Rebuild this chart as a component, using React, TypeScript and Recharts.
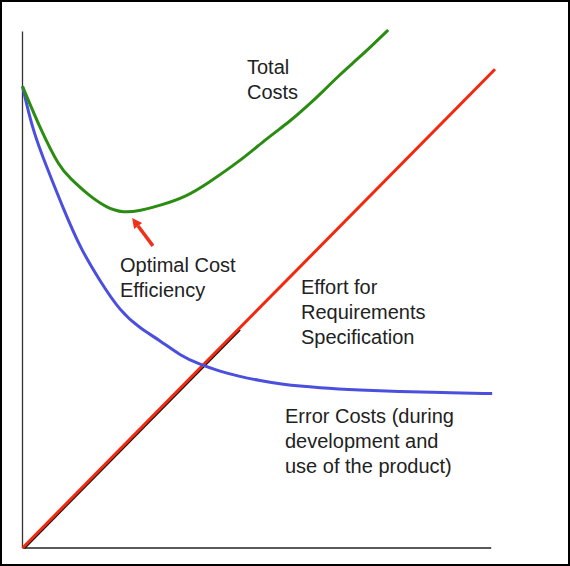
import React from 'react';
import { LineChart, Line, XAxis, YAxis, ReferenceLine } from 'recharts';

// effort axis (x) and cost axis (y), both 0..100
const blueX = [0, 2.2, 5.2, 8.6, 12.2, 16.4, 20.6, 24.9, 29.1, 33.3, 37.6, 41.8, 46.0, 50.3, 54.5, 63.0, 71.4, 79.9, 88.4, 99.4];
const errorCosts = [89.4, 80.7, 73.6, 65.8, 58.1, 51.7, 45.9, 42.5, 40.2, 37.3, 35.5, 34.2, 33.2, 32.4, 31.7, 31.0, 30.6, 30.3, 30.1, 29.9];

const greenX = [0, 3.7, 7.9, 10.1, 13.7, 17.9, 21.3, 24.9, 29.1, 34.8, 39.0, 46.0, 51.7, 56.6, 60.2, 63.6, 67.2, 70.8, 74.2, 77.4];
const totalCosts = [89.4, 81.3, 73.6, 71.6, 68.5, 65.8, 64.9, 65.3, 66.3, 68.1, 70.5, 74.9, 79.3, 82.6, 85.5, 88.4, 91.7, 94.6, 97.5, 100.3];

const effortX = [0, 100];
const effortSpec = [0, 92.7];

// dark shadow under the lower part of the red line
const shadowX = [0.35, 46];
const shadowY = [0, 42.3];

const errorData = blueX.map((x, i) => ({ x, y: errorCosts[i] }));
const totalData = greenX.map((x, i) => ({ x, y: totalCosts[i] }));
const effortData = effortX.map((x, i) => ({ x, y: effortSpec[i] }));
const shadowData = shadowX.map((x, i) => ({ x, y: shadowY[i] }));

const textStyle: React.CSSProperties = {
  position: 'absolute',
  fontFamily: '"Liberation Sans", Arial, sans-serif',
  fontSize: 20,
  lineHeight: '25px',
  color: '#222',
  whiteSpace: 'nowrap',
};

const Arrow = (props: any) => {
  const { x1, y1, x2, y2 } = props;
  const dx = x2 - x1;
  const dy = y2 - y1;
  const len = Math.sqrt(dx * dx + dy * dy);
  const ux = dx / len;
  const uy = dy / len;
  const head = 10;
  const half = 5;
  const bx = x2 - ux * head;
  const by = y2 - uy * head;
  return (
    <g>
      <line x1={x1} y1={y1} x2={bx} y2={by} stroke="#f0301a" strokeWidth={3.5} />
      <polygon
        points={`${x2},${y2} ${bx - uy * half},${by + ux * half} ${bx + uy * half},${by - ux * half}`}
        fill="#f0301a"
      />
    </g>
  );
};

export default function App() {
  return (
    <div style={{ position: 'absolute', left: 0, top: 0, width: 570, height: 566, background: '#fff' }}>
      <LineChart width={570} height={566} margin={{ top: 30, right: 75, bottom: 18, left: 22.5 }}>
        <XAxis type="number" dataKey="x" domain={[0, 100]} hide />
        <YAxis type="number" dataKey="y" domain={[0, 100]} hide />
        <ReferenceLine segment={[{ x: 0, y: 0 }, { x: 0, y: 100 }]} stroke="#333" strokeWidth={1.3} ifOverflow="visible" />
        <ReferenceLine segment={[{ x: 0, y: 0 }, { x: 99.2, y: 0 }]} stroke="#222" strokeWidth={1.6} ifOverflow="visible" />
        <Line data={shadowData} dataKey="y" type="linear" stroke="#111" strokeWidth={2.6} dot={false} activeDot={false} isAnimationActive={false} />
        <Line data={effortData} dataKey="y" type="linear" stroke="#f2290f" strokeWidth={3} dot={false} activeDot={false} isAnimationActive={false} />
        <Line data={errorData} dataKey="y" type="basis" stroke="#4b4fdd" strokeWidth={3} dot={false} activeDot={false} isAnimationActive={false} />
        <Line data={totalData} dataKey="y" type="basis" stroke="#2b8c12" strokeWidth={3} dot={false} activeDot={false} isAnimationActive={false} />
        <ReferenceLine
          segment={[{ x: 27.6, y: 58.5 }, { x: 23.2, y: 63.9 }]}
          ifOverflow="visible"
          shape={(p: any) => <Arrow {...p} />}
        />
      </LineChart>
      <div style={{ ...textStyle, left: 247, top: 54.5 }}>Total<br />Costs</div>
      <div style={{ ...textStyle, left: 120, top: 252.5 }}>Optimal Cost<br />Efficiency</div>
      <div style={{ ...textStyle, left: 301, top: 274.5 }}>Effort for<br />Requirements<br />Specification</div>
      <div style={{ ...textStyle, left: 285, top: 403.5 }}>Error Costs (during<br />development and<br />use of the product)</div>
      <div
        style={{
          position: 'absolute',
          left: 0,
          top: 0,
          width: 570,
          height: 566,
          boxSizing: 'border-box',
          border: '2px solid #000',
          pointerEvents: 'none',
        }}
      />
    </div>
  );
}
